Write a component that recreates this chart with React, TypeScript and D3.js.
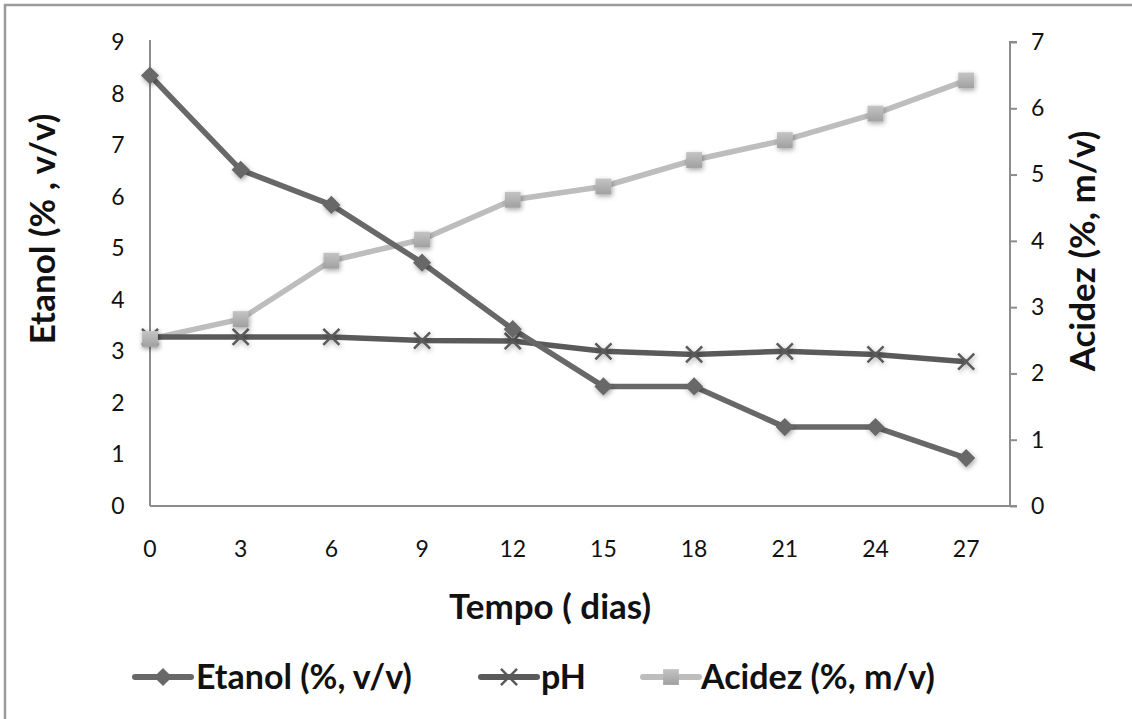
import React, { useRef, useEffect } from "react";
import * as d3 from "d3";

const days = [0, 3, 6, 9, 12, 15, 18, 21, 24, 27];
const etanol = [8.35, 6.52, 5.84, 4.72, 3.43, 2.32, 2.32, 1.53, 1.53, 0.93];
const ph = [3.28, 3.28, 3.28, 3.21, 3.2, 3.0, 2.94, 3.0, 2.94, 2.8];
const acidez = [2.52, 2.82, 3.7, 4.02, 4.62, 4.82, 5.22, 5.52, 5.92, 6.42];
const leftTicks = [0, 1, 2, 3, 4, 5, 6, 7, 8, 9];
const rightTicks = [0, 1, 2, 3, 4, 5, 6, 7];

const W = 1132;
const H = 719;
const FONT = "Lato, 'Open Sans', sans-serif";

export default function App() {
  const svgRef = useRef<SVGSVGElement | null>(null);

  useEffect(() => {
    const svg = d3.select(svgRef.current);
    svg.selectAll("*").remove();

    const left = 150, right = 1010, top = 42, bottom = 506;
    const x = d3.scaleLinear().domain([0, 28.45]).range([left, right]);
    const yL = d3.scaleLinear().domain([0, 9]).range([bottom, top]);
    const yR = d3.scaleLinear().domain([0, 7]).range([bottom, top]);

    // shadow filter + gradient for square markers
    const defs = svg.append("defs");
    const f = defs.append("filter").attr("id", "shadow")
      .attr("x", "-50%").attr("y", "-50%").attr("width", "200%").attr("height", "200%");
    f.append("feDropShadow").attr("dx", 1).attr("dy", 2).attr("stdDeviation", 2.5)
      .attr("flood-color", "#000").attr("flood-opacity", 0.35);
    const g1 = defs.append("linearGradient").attr("id", "sq").attr("x1", 0).attr("y1", 0).attr("x2", 0).attr("y2", 1);
    g1.append("stop").attr("offset", "0%").attr("stop-color", "#c4c4c4");
    g1.append("stop").attr("offset", "100%").attr("stop-color", "#a0a0a0");

    svg.append("rect").attr("width", W).attr("height", H).attr("fill", "#fff");
    // outer chart border (right/bottom cut off)
    svg.append("rect").attr("x", 5).attr("y", 5).attr("width", W + 20).attr("height", H + 20)
      .attr("fill", "none").attr("stroke", "#9a9a9a").attr("stroke-width", 2.5);

    const axisColor = "#8c8c8c";
    // left axis (no ticks)
    svg.append("line").attr("x1", left).attr("x2", left).attr("y1", top - 2).attr("y2", bottom)
      .attr("stroke", axisColor).attr("stroke-width", 2);
    // bottom axis
    svg.append("line").attr("x1", left).attr("x2", right).attr("y1", bottom).attr("y2", bottom)
      .attr("stroke", axisColor).attr("stroke-width", 2);
    // right axis with outward ticks
    const rAxis = d3.axisRight(yR).tickValues(rightTicks).tickSize(7).tickPadding(14)
      .tickFormat((d) => String(d));
    const rg = svg.append("g").attr("transform", `translate(${right},0)`).call(rAxis);
    rg.select(".domain").attr("stroke", axisColor).attr("stroke-width", 2)
      .attr("d", `M7,${top}H0V${bottom}H7`);
    rg.selectAll(".tick line").attr("stroke", axisColor).attr("stroke-width", 2);
    rg.selectAll(".tick text").attr("font-family", FONT).attr("font-size", 23).attr("fill", "#111");

    // left tick labels
    svg.append("g").selectAll("text").data(leftTicks).enter().append("text")
      .attr("x", 118).attr("y", (d) => yL(d)).attr("dy", "0.35em")
      .attr("text-anchor", "middle").attr("font-family", FONT).attr("font-size", 23)
      .attr("fill", "#111").text((d) => String(d));

    // x tick labels
    svg.append("g").selectAll("text").data(days).enter().append("text")
      .attr("x", (d) => x(d)).attr("y", 557)
      .attr("text-anchor", "middle").attr("font-family", FONT).attr("font-size", 23)
      .attr("fill", "#111").text((d) => String(d));

    // axis titles
    svg.append("text").attr("transform", `translate(55,229) rotate(-90)`)
      .attr("text-anchor", "middle").attr("font-family", FONT).attr("font-weight", "bold")
      .attr("font-size", 35).attr("fill", "#111").text("Etanol (% , v/v)");
    svg.append("text").attr("transform", `translate(1095,251) rotate(-90)`)
      .attr("text-anchor", "middle").attr("font-family", FONT).attr("font-weight", "bold")
      .attr("font-size", 35).attr("fill", "#111").text("Acidez (%, m/v)");
    svg.append("text").attr("x", 550).attr("y", 619)
      .attr("text-anchor", "middle").attr("font-family", FONT).attr("font-weight", "bold")
      .attr("font-size", 35).attr("fill", "#111").text("Tempo ( dias)");

    const cEt = "#686868", cPh = "#5a5a5a", cAc = "#bdbdbd";

    const diamond = d3.symbol().type(d3.symbolDiamond2).size(210);
    const square = d3.symbol().type(d3.symbolSquare).size(250);
    const cross = d3.symbol().type(d3.symbolTimes).size(170);

    const drawSeries = (vals: number[], y: d3.ScaleLinear<number, number>, color: string) => {
      const line = d3.line<number>().x((_, i) => x(days[i])).y((d) => y(d));
      svg.append("path").datum(vals).attr("d", line).attr("fill", "none")
        .attr("stroke", color).attr("stroke-width", 5.5).attr("stroke-linejoin", "round");
    };

    drawSeries(acidez, yR, cAc);
    drawSeries(ph, yL, cPh);
    drawSeries(etanol, yL, cEt);

    // markers
    svg.append("g").selectAll("path").data(ph).enter().append("path")
      .attr("transform", (d, i) => `translate(${x(days[i])},${yL(d)})`)
      .attr("d", cross()).attr("fill", "none").attr("stroke", cPh).attr("stroke-width", 2.5)
      .attr("filter", "url(#shadow)");
    svg.append("g").selectAll("path").data(acidez).enter().append("path")
      .attr("transform", (d, i) => `translate(${x(days[i])},${yR(d)})`)
      .attr("d", square()).attr("fill", "url(#sq)").attr("filter", "url(#shadow)");
    svg.append("g").selectAll("path").data(etanol).enter().append("path")
      .attr("transform", (d, i) => `translate(${x(days[i])},${yL(d)})`)
      .attr("d", diamond()).attr("fill", cEt).attr("filter", "url(#shadow)");

    // legend
    const legendY = 677;
    const items = [
      { label: "Etanol (%, v/v)", color: cEt, sym: diamond, x0: 135, fill: cEt, stroke: "none", tx: 196 },
      { label: "pH", color: cPh, sym: cross, x0: 481, fill: "none", stroke: cPh, tx: 541 },
      { label: "Acidez (%, m/v)", color: cAc, sym: square, x0: 643, fill: "url(#sq)", stroke: "none", tx: 701 },
    ];
    const lg = svg.append("g");
    items.forEach((it) => {
      lg.append("line").attr("x1", it.x0).attr("x2", it.x0 + 56).attr("y1", legendY).attr("y2", legendY)
        .attr("stroke", it.color).attr("stroke-width", 6).attr("stroke-linecap", "round");
      lg.append("path").attr("transform", `translate(${it.x0 + 28},${legendY})`)
        .attr("d", it.sym()).attr("fill", it.fill).attr("stroke", it.stroke).attr("stroke-width", 2.5);
      lg.append("text").attr("x", it.tx).attr("y", legendY).attr("dy", "0.35em")
        .attr("font-family", FONT).attr("font-weight", "bold").attr("font-size", 34)
        .attr("fill", "#111").text(it.label);
    });
  }, []);

  return (
    <svg ref={svgRef} width={W} height={H}
      style={{ position: "absolute", left: 0, top: 0, display: "block" }} />
  );
}
